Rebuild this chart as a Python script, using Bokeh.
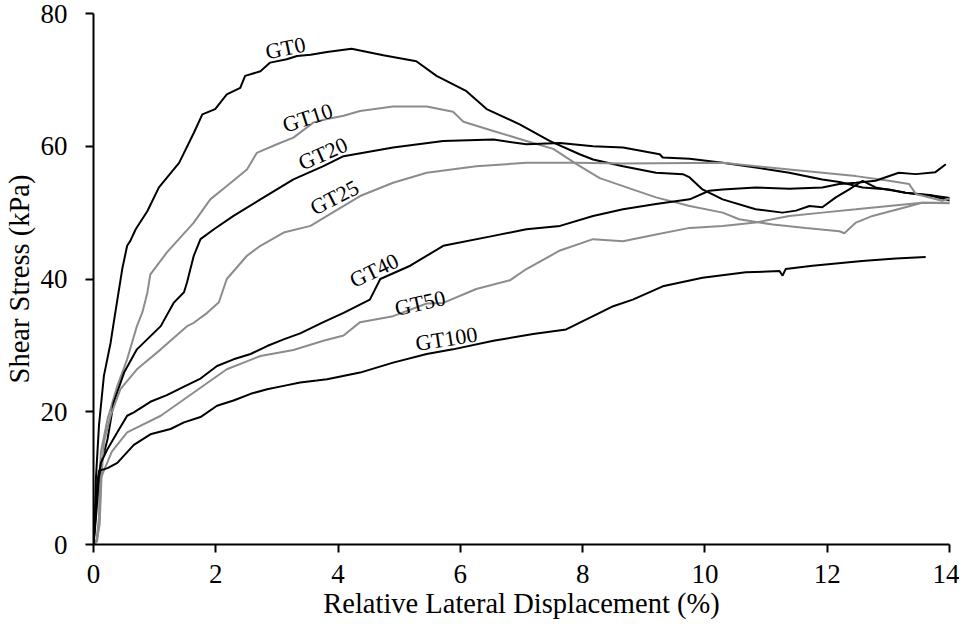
from bokeh.plotting import figure
from bokeh.models import Range1d, FixedTicker
from bokeh.embed import file_html
from bokeh.resources import INLINE
from bokeh.core.properties import value
import math

# ---------------- data ----------------
gt0_x = [0, 0.02, 0.04, 0.09, 0.17, 0.28, 0.33, 0.47, 0.55, 0.60, 0.69, 0.88, 1.07, 1.40, 1.64, 1.78, 1.99,
         2.18, 2.40, 2.48, 2.73, 2.89, 3.16, 3.33, 3.55, 3.82, 4.22, 4.74, 5.28, 5.61, 6.10, 6.43, 6.97,
         7.46, 7.95, 8.17, 8.66, 9.20, 9.64, 9.75, 9.96, 10.29, 10.83, 11.27, 11.49, 11.71, 11.92, 12.14,
         12.36, 12.58, 12.79, 13.28, 13.72, 14.02]
gt0_y = [0, 3, 10, 18, 25.4, 30.4, 33.4, 41.5, 45.0, 45.7, 47.5, 50.2, 53.8, 57.5, 62.0, 64.8, 65.6,
         67.8, 68.8, 70.6, 71.3, 72.6, 73.1, 73.6, 73.8, 74.2, 74.7, 73.7, 72.8, 70.6, 68.3, 65.6, 63.3,
         60.8, 58.8, 58.0, 57.0, 56.0, 55.8, 55.3, 53.5, 52.0, 50.5, 50.0, 50.3, 51.0, 50.8, 52.3,
         53.5, 54.8, 53.8, 53.0, 52.6, 52.2]

gt10_x = [0, 0.05, 0.09, 0.10, 0.12, 0.23, 0.39, 0.55, 0.71, 0.80, 0.88, 0.93, 1.20, 1.64, 1.91, 2.18, 2.51,
          2.67, 3.00, 3.27, 3.60, 3.82, 4.09, 4.36, 4.90, 5.45, 5.88, 6.05, 6.54, 7.08, 7.52, 7.90, 8.28,
          8.66, 9.20, 9.75, 10.29, 10.56, 11.11, 11.65, 12.20, 12.28, 12.47, 12.74, 13.28, 13.55, 14.02]
gt10_y = [0, 0.8, 4, 10, 13.9, 18.9, 23.9, 27.9, 32.9, 35.0, 37.9, 40.7, 44.0, 48.5, 52.0, 54.0, 56.5,
          59.0, 60.3, 61.3, 63.6, 64.1, 64.6, 65.3, 66.0, 66.0, 65.2, 63.7, 62.3, 60.8, 59.6, 57.3, 55.2,
          54.0, 52.3, 51.0, 50.0, 49.0, 48.2, 47.7, 47.2, 46.9, 48.5, 49.5, 50.8, 51.5, 51.5]

gt20_x = [0, 0.04, 0.08, 0.12, 0.23, 0.33, 0.50, 0.71, 1.10, 1.31, 1.48, 1.53, 1.64, 1.75, 1.97, 2.29, 2.73,
          3.00, 3.27, 3.76, 4.09, 4.90, 5.72, 6.54, 7.08, 7.63, 8.17, 8.66, 9.26, 9.31, 9.75, 10.29,
          10.83, 11.38, 11.92, 12.20, 12.58, 13.01, 13.28, 13.72, 14.02]
gt20_y = [0, 4, 9, 11.9, 15.9, 21.4, 25.9, 29.4, 32.9, 36.4, 38.0, 39.5, 43.5, 46.0, 47.5, 49.5, 52.0,
          53.5, 55.0, 57.0, 58.5, 59.8, 60.8, 61.0, 60.3, 60.5, 60.0, 59.8, 58.8, 58.3, 58.1, 57.5,
          56.8, 56.0, 55.0, 54.6, 53.8, 53.5, 53.0, 52.5, 51.8]

gt25_x = [0, 0.05, 0.10, 0.13, 0.17, 0.28, 0.44, 0.71, 1.10, 1.53, 1.64, 1.86, 2.05, 2.18, 2.51, 2.73,
          3.11, 3.55, 3.82, 4.36, 4.90, 5.45, 6.26, 7.08, 7.90, 8.66, 10.29, 11.38, 12.47, 13.01, 13.34,
          13.45, 13.88, 14.02]
gt25_y = [0, 0.5, 3, 10, 15.4, 19.4, 23.4, 26.4, 29.4, 32.9, 33.4, 34.9, 36.5, 40.0, 43.5, 45.0,
          47.0, 48.0, 49.5, 52.5, 54.5, 56.0, 57.0, 57.5, 57.5, 57.4, 57.5, 56.5, 55.5, 54.8, 54.3,
          52.8, 51.8, 52.2]

gt40_x = [0, 0.04, 0.08, 0.12, 0.23, 0.39, 0.55, 0.66, 0.93, 1.20, 1.48, 1.75, 2.02, 2.29, 2.57, 2.84,
          3.11, 3.38, 3.76, 4.09, 4.52, 4.69, 5.18, 5.72, 6.54, 7.08, 7.63, 8.17, 8.66, 9.20, 9.75,
          10.07, 10.29, 10.83, 11.38, 11.92, 12.20, 12.47, 12.79, 13.17, 13.45, 13.77, 13.94]
gt40_y = [0, 5, 10, 12.3, 14.4, 16.9, 19.4, 19.9, 21.5, 22.5, 23.8, 25.0, 26.9, 27.9, 28.7, 29.9,
          30.9, 31.8, 33.5, 34.9, 36.9, 40.0, 42.0, 45.0, 46.5, 47.5, 48.0, 49.5, 50.5, 51.3, 52.0,
          53.3, 53.5, 53.8, 53.6, 53.8, 54.3, 54.5, 54.8, 56.0, 55.8, 56.1, 57.3]

gt50_x = [0, 0.06, 0.10, 0.12, 0.30, 0.55, 1.10, 1.64, 2.18, 2.73, 3.27, 3.76, 4.09, 4.36, 4.90, 5.45,
          5.72, 6.26, 6.81, 7.08, 7.63, 8.17, 8.66, 9.20, 9.75, 10.29, 10.83, 11.38, 11.92, 12.47,
          13.01, 13.55, 14.02]
gt50_y = [0, 0.5, 4, 10, 14.0, 16.9, 19.4, 22.9, 26.4, 28.4, 29.3, 30.7, 31.5, 33.5, 34.4, 36.3,
          36.4, 38.5, 39.8, 41.5, 44.3, 46.0, 45.7, 46.7, 47.7, 48.0, 48.5, 49.5, 50.0, 50.5,
          51.0, 51.5, 51.4]

gt100_x = [0, 0.03, 0.06, 0.09, 0.23, 0.39, 0.66, 0.93, 1.26, 1.48, 1.75, 2.02, 2.29, 2.57, 2.84, 3.11,
           3.38, 3.65, 3.82, 4.36, 4.90, 5.45, 5.88, 6.54, 7.19, 7.73, 8.17, 8.50, 8.82, 9.31, 9.96,
           10.67, 11.22, 11.27, 11.32, 11.76, 12.57, 13.12, 13.61]
gt100_y = [0, 5, 9, 11.1, 11.5, 12.3, 15.0, 16.6, 17.4, 18.4, 19.2, 20.9, 21.7, 22.7, 23.4, 23.9,
           24.4, 24.7, 24.9, 25.9, 27.4, 28.7, 29.4, 30.7, 31.7, 32.4, 34.4, 35.9, 36.9, 38.9, 40.2,
           41.0, 41.2, 40.5, 41.5, 42.0, 42.7, 43.1, 43.3]

series_names = ["GT0", "GT10", "GT20", "GT25", "GT40", "GT50", "GT100"]
series_x = [gt0_x, gt10_x, gt20_x, gt25_x, gt40_x, gt50_x, gt100_x]
series_y = [gt0_y, gt10_y, gt20_y, gt25_y, gt40_y, gt50_y, gt100_y]

x_ticks = [0, 2, 4, 6, 8, 10, 12, 14]
y_ticks = [0, 20, 40, 60, 80]

# label anchors (data coords) and angles (deg)
label_x = [3.14, 3.50, 3.75, 3.94, 4.59, 5.34, 5.77]
label_y = [74.8, 64.3, 58.9, 52.3, 41.3, 36.4, 31.0]
label_angle = [12, 18, 24, 27, 26, 13, 9]

# ---------------- styles ----------------
BLACK = "#000000"
GRAY = "#8c8c8c"
colors = [BLACK, GRAY, BLACK, GRAY, BLACK, GRAY, BLACK]
FONT = "Liberation Serif"

p = figure(width=959, height=626, output_backend="svg", toolbar_location=None,
           x_range=Range1d(0, 14), y_range=Range1d(0, 80),
           min_border_left=92, min_border_right=10, min_border_top=13, min_border_bottom=82)
p.outline_line_color = None
p.grid.visible = False
p.background_fill_color = "white"
p.border_fill_color = "white"

for xs, ys, c in zip(series_x, series_y, colors):
    p.line(xs, ys, line_color=c, line_width=2)

p.text(x=label_x, y=label_y, text=series_names,
       angle=[math.radians(a) for a in label_angle],
       text_font=value(FONT), text_font_size="22px", text_color="black",
       text_align="center", text_baseline="middle")

for ax in (p.xaxis[0], p.yaxis[0]):
    ax.axis_line_width = 2
    ax.axis_line_color = "black"
    ax.major_tick_line_width = 2
    ax.major_tick_line_color = "black"
    ax.major_tick_out = 8
    ax.major_tick_in = 0
    ax.minor_tick_out = 0
    ax.minor_tick_in = 0
    ax.major_label_text_font = FONT
    ax.major_label_text_font_size = "27px"
    ax.major_label_text_color = "black"
    ax.axis_label_text_font = FONT
    ax.axis_label_text_font_size = "28.5px"
    ax.axis_label_text_font_style = "normal"
    ax.axis_label_text_color = "black"

p.xaxis.ticker = FixedTicker(ticks=x_ticks)
p.yaxis.ticker = FixedTicker(ticks=y_ticks)
p.xaxis.axis_label = "Relative Lateral Displacement (%)"
p.yaxis.axis_label = "Shear Stress (kPa)"
p.xaxis.major_label_standoff = 12
p.yaxis.major_label_standoff = 18
p.xaxis.axis_label_standoff = 2
p.yaxis.axis_label_standoff = 3

open("out.html", "w").write(file_html(p, INLINE))
